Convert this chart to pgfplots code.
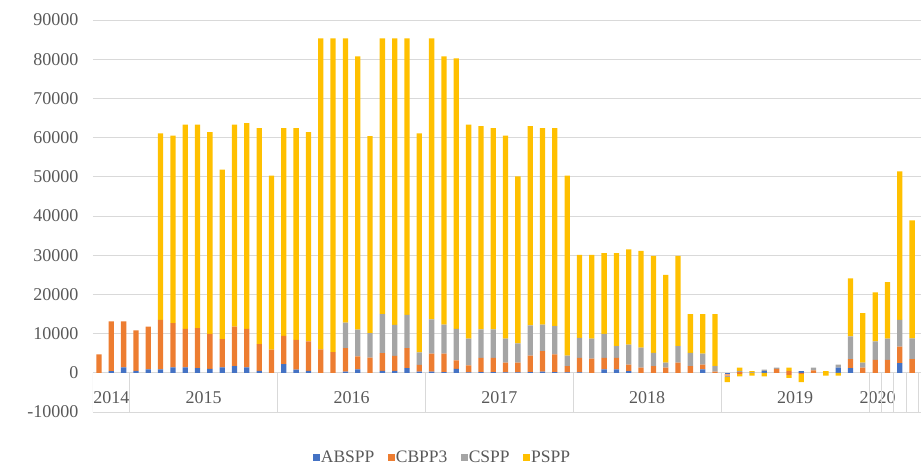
\documentclass[border=0pt]{standalone}
\usepackage{fontspec}
\setmainfont{Liberation Serif}
\usepackage{pgfplots}
\pgfplotsset{compat=1.18}
\usepackage{pgfplotstable}

\definecolor{cabs}{HTML}{4472C4}
\definecolor{ccb}{HTML}{ED7D31}
\definecolor{ccs}{HTML}{A5A5A5}
\definecolor{cps}{HTML}{FFC000}
\definecolor{textc}{HTML}{595959}
\definecolor{gridc}{HTML}{D9D9D9}

% positive parts (EUR million)
\pgfplotstableread{
idx abs cb cs ps
0 0 4700 0 0
1 400 12700 0 0
2 1400 11700 0 0
3 500 10300 0 0
4 900 10900 0 0
5 900 12600 0 47600
6 1400 11300 0 47800
7 1400 9800 0 52100
8 1200 10200 0 51900
9 1000 8900 0 51500
10 1400 7200 0 43200
11 1700 10100 0 51500
12 1400 9800 0 52500
13 500 6800 0 55100
14 0 5900 0 44400
15 2200 7200 0 53000
16 800 7600 0 54000
17 500 7500 0 53400
18 0 6000 0 79300
19 0 5300 0 80000
20 300 6000 6500 72500
21 900 3300 6800 69700
22 0 3900 6200 50300
23 500 4500 10000 70300
24 500 3800 7900 73100
25 1200 5100 8500 70500
26 300 1700 3200 55900
27 300 4600 8700 71700
28 200 4700 7400 68400
29 1000 2200 8000 69000
30 100 1800 6800 54600
31 200 3600 7300 51800
32 200 3600 7300 51300
33 100 2500 6100 51800
34 100 2500 4900 42600
35 200 4200 7700 50800
36 300 5200 6800 50100
37 200 4500 7200 50500
38 100 1600 2700 45900
39 100 3700 5100 21200
40 0 3600 5100 21400
41 900 2900 6100 20600
42 900 2900 3000 23700
43 400 1700 5100 24300
44 0 1300 5100 24700
45 0 1700 3400 24700
46 0 1300 1300 22400
47 0 2600 4200 23000
48 0 1700 3400 9900
49 900 1200 2800 10100
50 0 300 1400 13300
51 0 0 0 0
52 0 200 300 800
53 0 0 200 200
54 400 0 400 0
55 0 1000 300 0
56 0 500 0 800
57 400 0 0 0
58 0 600 700 0
59 0 0 0 400
60 1300 0 800 0
61 1200 2300 5800 14800
62 0 1300 1300 12600
63 0 3300 4700 12500
64 0 3300 5400 14400
65 2500 4200 6800 37900
66 0 3500 5300 30100
}\postab

% negative parts (EUR million)
\pgfplotstableread{
idx abs cb cs ps
51 -400 -300 -200 -1500
52 0 -300 0 -600
53 0 0 0 -700
54 0 0 0 -900
56 0 -500 0 -800
57 0 -300 0 -2100
59 0 0 0 -700
60 0 0 0 -700
}\negtab

\pgfplotsset{
  mybase/.style={
    at={(92.84bp,58bp)}, anchor=south west,
    scale only axis, width=827.9bp, height=392bp,
    xmin=-0.5, xmax=66.7, ymin=-10000, ymax=90000,
    ybar stacked, bar width=0.43,
  }
}

\begin{document}
\begin{tikzpicture}
\useasboundingbox (0,0) rectangle (921bp,470bp);
\begin{axis}[
  mybase,
  axis line style={draw=none},
  xtick=\empty,
  scaled y ticks=false,
  ytick={-10000,0,10000,20000,30000,40000,50000,60000,70000,80000,90000},
  yticklabels={-10000,0,10000,20000,30000,40000,50000,60000,70000,80000,90000},
  major tick length=0pt,
  ymajorgrids, grid style={color=gridc, line width=0.9bp},
  yticklabel style={font=\fontsize{18bp}{20bp}\selectfont, text=textc, xshift=-11bp},
  legend columns=4,
  legend style={at={(0.4217,-0.117)}, anchor=center, draw=none, fill=none,
    font=\fontsize{17.5bp}{20bp}\selectfont, text=textc,
    nodes={inner sep=1.2bp},
    /tikz/every even column/.append style={column sep=12bp}},
  legend image code/.code={\draw[#1,draw=none] (0bp,-3.5bp) rectangle (7bp,3.5bp);},
]
\addplot[fill=cabs, draw=none] table[x=idx,y=abs]{\postab};
\addplot[fill=ccb, draw=none] table[x=idx,y=cb]{\postab};
\addplot[fill=ccs, draw=none] table[x=idx,y=cs]{\postab};
\addplot[fill=cps, draw=none] table[x=idx,y=ps]{\postab};
\legend{ABSPP,CBPP3,CSPP,PSPP}
\draw[gridc, line width=0.9bp] (axis cs:-0.5,0) -- (axis cs:66.7,0);
\pgfplotsinvokeforeach{-0.5,2.5,14.5,26.5,38.5,50.5,62.5,63.5,64.5,65.5,66.5}{
  \draw[gridc, line width=0.9bp] (axis cs:#1,0) -- (axis cs:#1,-10000);
}
\node[font=\fontsize{18bp}{20bp}\selectfont, text=textc] at (axis cs:1,-6400) {2014};
\node[font=\fontsize{18bp}{20bp}\selectfont, text=textc] at (axis cs:8.5,-6400) {2015};
\node[font=\fontsize{18bp}{20bp}\selectfont, text=textc] at (axis cs:20.5,-6400) {2016};
\node[font=\fontsize{18bp}{20bp}\selectfont, text=textc] at (axis cs:32.5,-6400) {2017};
\node[font=\fontsize{18bp}{20bp}\selectfont, text=textc] at (axis cs:44.5,-6400) {2018};
\node[font=\fontsize{18bp}{20bp}\selectfont, text=textc] at (axis cs:56.5,-6400) {2019};
\node[font=\fontsize{18bp}{20bp}\selectfont, text=textc] at (axis cs:63.2,-6400) {2020};
\end{axis}
\begin{axis}[
  mybase,
  hide axis,
]
\addplot[fill=cabs, draw=none] table[x=idx,y=abs]{\negtab};
\addplot[fill=ccb, draw=none] table[x=idx,y=cb]{\negtab};
\addplot[fill=ccs, draw=none] table[x=idx,y=cs]{\negtab};
\addplot[fill=cps, draw=none] table[x=idx,y=ps]{\negtab};
\end{axis}
\end{tikzpicture}
\end{document}
